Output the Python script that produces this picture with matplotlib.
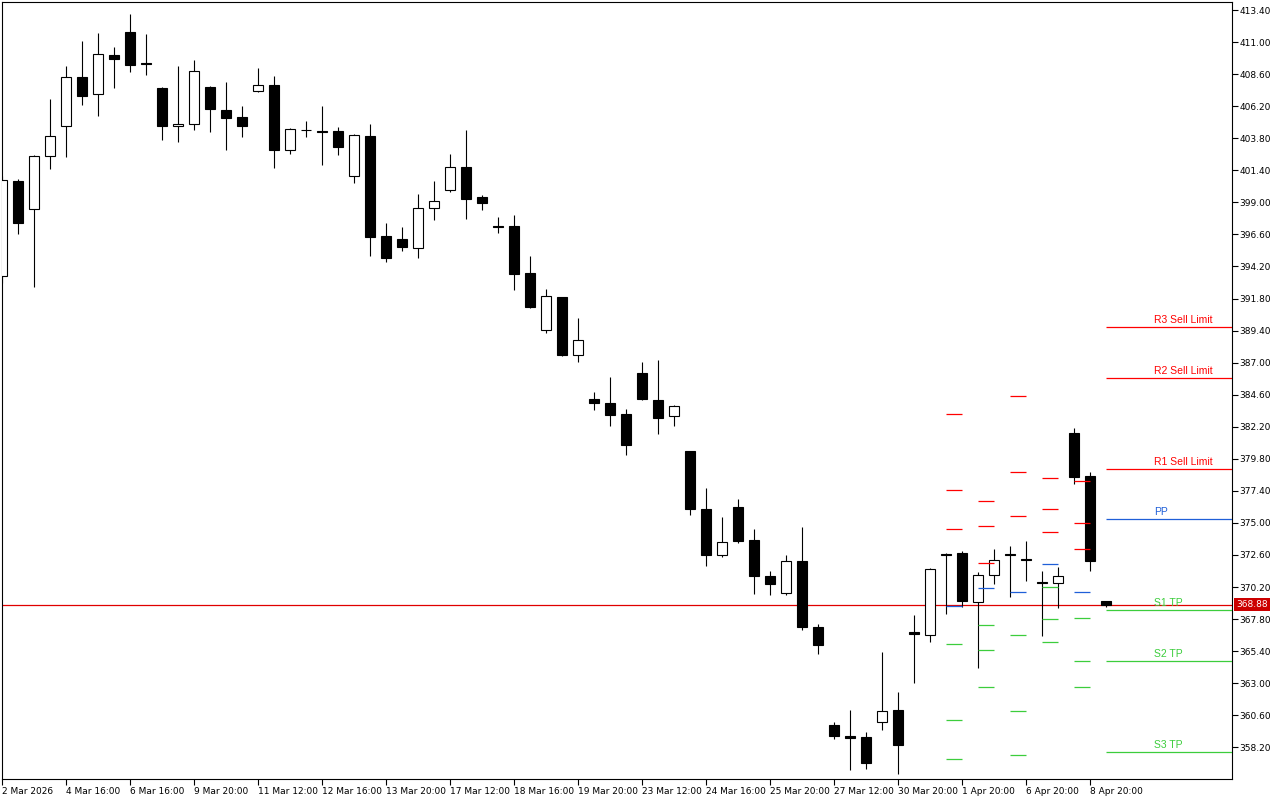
import numpy as np
import matplotlib
matplotlib.use("Agg")
import matplotlib.pyplot as plt
import matplotlib.transforms as mtransforms

# OHLC values, one candle per slot (oldest first)
opens = [393.45, 400.59, 398.47, 402.44, 404.69, 408.36, 407.13, 410.01, 411.73, 409.45,
         407.53, 404.69, 404.84, 407.61, 405.89, 405.36, 407.31, 407.76, 402.89, 404.45,
         404.36, 404.31, 400.94, 403.96, 396.47, 396.25, 395.62, 398.55, 399.89, 401.62,
         399.37, 397.20, 397.22, 393.70, 389.48, 391.90, 387.61, 384.31, 384.01, 383.12,
         386.19, 384.24, 382.97, 380.37, 376.07, 372.60, 376.17, 373.70, 371.05, 369.75,
         372.13, 367.18, 359.84, 359.07, 358.94, 360.12, 360.97, 366.86, 366.61, 372.70,
         372.73, 369.11, 371.13, 372.70, 372.30, 370.55, 370.53, 381.71, 378.49, 369.13]
highs = [401.00, 400.72, 402.54, 406.73, 409.21, 411.08, 411.68, 410.63, 413.10, 411.60,
         407.60, 409.21, 409.65, 407.70, 407.98, 406.21, 409.03, 408.43, 404.55, 405.09,
         406.21, 404.61, 404.11, 404.86, 397.44, 397.15, 399.62, 400.59, 402.61, 404.41,
         399.52, 397.89, 398.04, 394.97, 392.50, 391.95, 390.33, 384.79, 385.91, 383.56,
         387.08, 387.18, 383.82, 380.40, 377.59, 375.42, 376.77, 374.58, 371.38, 372.58,
         374.67, 367.41, 360.07, 360.97, 359.32, 365.31, 362.31, 368.08, 371.66, 372.78,
         372.88, 371.30, 373.08, 373.25, 373.62, 371.38, 371.73, 382.09, 378.79, 369.15]
lows = [393.00, 396.64, 392.67, 401.51, 402.41, 406.31, 405.48, 407.58, 408.78, 408.55,
        403.68, 403.53, 404.43, 404.28, 402.94, 403.91, 407.25, 401.59, 402.64, 403.91,
        401.79, 402.54, 400.46, 395.00, 394.55, 395.37, 394.85, 397.69, 399.80, 397.77,
        398.44, 396.72, 392.43, 391.10, 389.23, 387.50, 387.06, 383.44, 382.26, 380.09,
        384.21, 381.66, 382.26, 375.60, 371.75, 372.43, 373.53, 369.65, 369.60, 369.60,
        366.98, 365.18, 358.82, 356.50, 356.57, 359.49, 356.20, 363.01, 366.08, 368.18,
        368.70, 364.13, 370.43, 369.45, 370.65, 366.53, 368.63, 377.94, 371.40, 368.70]
closes = [400.64, 397.47, 402.46, 403.96, 408.36, 406.98, 410.08, 409.75, 409.30, 409.35,
          404.73, 404.84, 408.81, 406.01, 405.33, 404.73, 407.76, 402.94, 404.46, 404.40,
          404.30, 403.16, 404.01, 396.42, 394.85, 395.67, 398.55, 399.07, 401.62, 399.27,
          398.97, 397.15, 393.65, 391.18, 391.98, 387.58, 388.68, 383.98, 383.09, 380.84,
          384.28, 382.86, 383.79, 376.04, 372.60, 373.60, 373.62, 371.03, 370.43, 372.18,
          367.20, 365.86, 359.04, 358.89, 357.02, 360.94, 358.37, 366.68, 371.58, 372.60,
          369.15, 371.13, 372.25, 372.60, 372.20, 370.52, 371.05, 378.44, 372.15, 368.88]

time_labels = ["2 Mar 2026", "4 Mar 16:00", "6 Mar 16:00", "9 Mar 20:00", "11 Mar 12:00",
               "12 Mar 16:00", "13 Mar 20:00", "17 Mar 12:00", "18 Mar 16:00", "19 Mar 20:00",
               "23 Mar 12:00", "24 Mar 16:00", "25 Mar 20:00", "27 Mar 12:00", "30 Mar 20:00",
               "1 Apr 20:00", "6 Apr 20:00", "8 Apr 20:00"]
label_every = 4

# daily pivot levels, each starting at the first candle of its day
pivot_start = [59, 61, 63, 65, 67, 69]
r3 = [383.15, 376.62, 384.50, 378.34, 378.11, 389.67]
r2 = [377.46, 374.75, 378.79, 376.02, 374.97, 385.83]
r1 = [374.52, 371.98, 375.49, 374.30, 373.02, 379.01]
pp = [368.80, 370.10, 369.80, 371.90, 369.80, 375.27]
s1 = [365.91, 367.33, 366.59, 370.18, 367.86, 368.46]
s2 = [360.22, 365.46, 360.90, 367.78, 364.64, 364.64]
s3 = [357.30, 362.69, 357.60, 366.06, 362.69, 357.83]

last_price = 368.88
y_ticks = np.round(np.arange(358.2, 413.41, 2.4), 2)

RED = "#ff0000"
BLUE = "#1f5fd8"
GREEN = "#3ccd3c"

fig = plt.figure(figsize=(12.8, 8), dpi=100)
ax = fig.add_axes([2 / 1280, 21 / 800, 1230 / 1280, 777 / 800])

o = np.array(opens)
h = np.array(highs)
l = np.array(lows)
c = np.array(closes)
x = np.arange(len(o))

xmin, xmax = -0.02, 76.86
ax.set_xlim(xmin, xmax)
ax.set_ylim(355.83, 414.0)

# current price line sits behind the candles
ax.axhline(last_price, color="#e00000", lw=0.9, zorder=1)

# candles: wick then body
ax.vlines(x, l, h, color="black", lw=0.8, zorder=2)
up = c >= o
ax.bar(x, np.abs(c - o), bottom=np.minimum(o, c), width=0.62,
       color=np.where(up, "white", "black"), edgecolor="black", linewidth=0.8, zorder=3)

# pivot segments
starts = np.array(pivot_start, dtype=float)
ends = starts + 1
ends[-1] = xmax
levels = [(r3, RED, "R3 Sell Limit"), (r2, RED, "R2 Sell Limit"), (r1, RED, "R1 Sell Limit"),
          (pp, BLUE, "PP"), (s1, GREEN, "S1 TP"), (s2, GREEN, "S2 TP"), (s3, GREEN, "S3 TP")]
text_tr = mtransforms.offset_copy(ax.transData, fig, x=0, y=2, units="dots")
for vals, col, name in levels:
    ax.hlines(vals, starts, ends, colors=col, lw=0.9, zorder=4)
    ax.text(72, vals[-1], name, color=col, fontsize=7.5, family="Liberation Sans",
            ha="left", va="bottom", transform=text_tr, zorder=5)

# axes styling
for sp in ax.spines.values():
    sp.set_color("black")
    sp.set_linewidth(0.8)

ax.yaxis.tick_right()
ax.set_yticks(y_ticks)
ax.set_yticklabels([f"{v:.2f}" for v in y_ticks])
ax.tick_params(axis="y", length=4, width=0.8, pad=1.5, labelsize=6.5, colors="black")

ax.set_xticks(x[::label_every][:len(time_labels)])
ax.set_xticklabels(time_labels)
for t in ax.get_xticklabels():
    t.set_ha("left")
ax.tick_params(axis="x", length=4, width=0.8, pad=1.5, labelsize=6.5, colors="black")

# last price tag on the price scale
tag_tr = mtransforms.blended_transform_factory(ax.transAxes, ax.transData)
ax.text(1.0035, last_price, f"{last_price:.2f}", transform=tag_tr, color="white",
        fontsize=6.5, ha="left", va="center", zorder=6, clip_on=False,
        bbox=dict(boxstyle="square,pad=0.2", fc="#cc0000", ec="none"))

fig.savefig("out.png", dpi=100, facecolor="white")
